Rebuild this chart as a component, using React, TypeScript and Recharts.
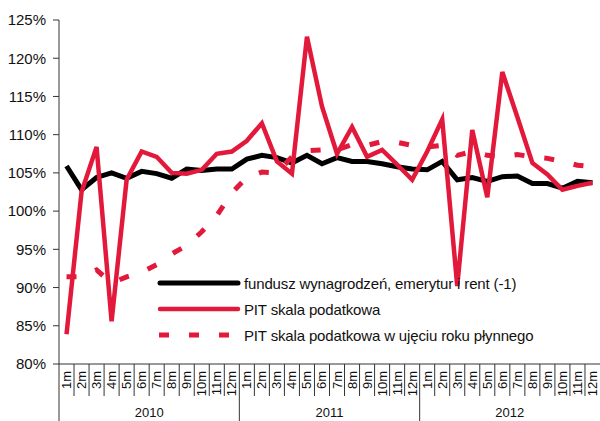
import React from 'react';
import { LineChart, Line, XAxis, YAxis, Legend } from 'recharts';

const months = ['1m', '2m', '3m', '4m', '5m', '6m', '7m', '8m', '9m', '10m', '11m', '12m'];
const years = ['2010', '2011', '2012'];

const fundusz = [
  105.9, 102.8, 104.4, 105.0, 104.3, 105.2, 104.9, 104.3, 105.5, 105.3, 105.5, 105.5,
  106.8, 107.3, 107.0, 106.3, 107.3, 106.2, 107.0, 106.5, 106.5, 106.2, 105.8, 105.5,
  105.4, 106.5, 104.1, 104.4, 103.9, 104.5, 104.6, 103.6, 103.6, 103.0, 103.9, 103.7,
];
const pit = [
  83.9, 102.5, 108.4, 85.6, 104.1, 107.8, 107.1, 105.0, 104.9, 105.4, 107.5, 107.8,
  109.2, 111.5, 106.5, 104.9, 122.8, 113.7, 107.5, 111.0, 107.1, 108.0, 106.1, 104.1,
  107.8, 112.0, 90.2, 110.6, 101.8, 118.2, 112.3, 106.3, 104.8, 102.8, 103.3, 103.7,
];
const pitRolling = [
  91.4, 91.4, 92.3, 90.6, 91.4, 92.0, 93.0, 94.4, 95.5, 97.3, 99.4, 102.4,
  104.4, 105.1, 105.0, 107.1, 107.9, 108.0, 108.0, 108.7, 108.6, 109.1, 109.0, 108.6,
  108.4, 108.6, 107.3, 107.8, 107.3, 107.1, 107.4, 107.1, 106.9, 106.5, 106.0, 105.8,
];
const yTicks = [80, 85, 90, 95, 100, 105, 110, 115, 120, 125];

const seriesNames = [
  'fundusz wynagrodzeń, emerytur i rent (-1)',
  'PIT skala podatkowa',
  'PIT skala podatkowa w ujęciu roku płynnego',
];

const data = fundusz.map((v, i) => ({
  label: months[i % 12],
  year: years[Math.floor(i / 12)],
  fundusz: v,
  pit: pit[i],
  rolling: pitRolling[i],
}));

const W = 600;
const H = 421;
const YAXIS_W = 59;
const XAXIS_H = 57;
const TOP = 20;
const STEP = (W - YAXIS_W) / data.length;
const RED = '#e3193b';
const FONT = '"Liberation Sans", Arial, sans-serif';

const MonthTick = (props: any) => {
  const { x, y, payload, index } = props;
  const half = STEP / 2;
  const i = typeof index === 'number' ? index : payload.index;
  const isYearStart = i % 12 === 0;
  const isYearMid = i % 12 === 6;
  return (
    <g>
      <line x1={x - half} x2={x - half} y1={y} y2={isYearStart ? H : y + 32} stroke="#333" strokeWidth={1} />
      <text
        x={x}
        y={y + 7}
        transform={`rotate(-90 ${x} ${y + 7})`}
        textAnchor="end"
        dominantBaseline="central"
        fontSize={13}
        fontFamily={FONT}
        fill="#111"
      >
        {payload.value}
      </text>
      {isYearMid ? (
        <text x={x - half} y={y + 53} textAnchor="middle" fontSize={13} fontFamily={FONT} fill="#111">
          {data[i].year}
        </text>
      ) : null}
    </g>
  );
};

const LegendContent = () => {
  const rows = [
    { stroke: '#000', dash: undefined as string | undefined, cap: 'round' as const, w: 5 },
    { stroke: RED, dash: undefined as string | undefined, cap: 'round' as const, w: 4.5 },
    { stroke: RED, dash: '10 20', cap: 'butt' as const, w: 5 },
  ];
  return (
    <div style={{ fontFamily: FONT, fontSize: 15, color: '#111' }}>
      {rows.map((r, i) => (
        <div key={i} style={{ display: 'flex', alignItems: 'center', height: 26 }}>
          <svg width={84} height={26} style={{ display: 'block' }}>
            <line
              x1={r.dash ? 2 : 3}
              x2={r.dash ? 84 : 81}
              y1={13}
              y2={13}
              stroke={r.stroke}
              strokeWidth={r.w}
              strokeLinecap={r.cap}
              strokeDasharray={r.dash}
            />
          </svg>
          <span style={{ marginLeft: 3, whiteSpace: 'nowrap', letterSpacing: -0.15 }}>{seriesNames[i]}</span>
        </div>
      ))}
    </div>
  );
};

export default function App() {
  return (
    <div style={{ position: 'absolute', left: 0, top: 0, width: W, height: H, background: '#fff' }}>
      <LineChart width={W} height={H} data={data} margin={{ top: TOP, right: 0, bottom: 0, left: 0 }}>
        <XAxis
          dataKey="label"
          interval={0}
          padding={{ left: STEP / 2, right: STEP / 2 }}
          height={XAXIS_H}
          tickSize={0}
          tickMargin={0}
          tickLine={false}
          axisLine={{ stroke: '#333', strokeWidth: 1 }}
          tick={<MonthTick />}
        />
        <YAxis
          width={YAXIS_W}
          domain={[80, 125]}
          ticks={yTicks}
          interval={0}
          tickSize={6}
          tickMargin={7}
          axisLine={{ stroke: '#333', strokeWidth: 1 }}
          tickLine={{ stroke: '#333', strokeWidth: 1 }}
          tickFormatter={(v: number) => `${v}%`}
          tick={{ fontSize: 15, fontFamily: FONT, fill: '#111' }}
        />
        <Legend
          layout="horizontal"
          verticalAlign="middle"
          align="center"
          content={<LegendContent />}
          wrapperStyle={{ left: 157, top: 270, width: 430 }}
        />
        <Line
          type="linear"
          dataKey="fundusz"
          name={seriesNames[0]}
          stroke="#000"
          strokeWidth={5}
          dot={false}
          activeDot={false}
          isAnimationActive={false}
        />
        <Line
          type="linear"
          dataKey="rolling"
          name={seriesNames[2]}
          stroke={RED}
          strokeWidth={5}
          strokeDasharray="10 20"
          dot={false}
          activeDot={false}
          isAnimationActive={false}
        />
        <Line
          type="linear"
          dataKey="pit"
          name={seriesNames[1]}
          stroke={RED}
          strokeWidth={4.5}
          dot={false}
          activeDot={false}
          isAnimationActive={false}
        />
      </LineChart>
    </div>
  );
}
